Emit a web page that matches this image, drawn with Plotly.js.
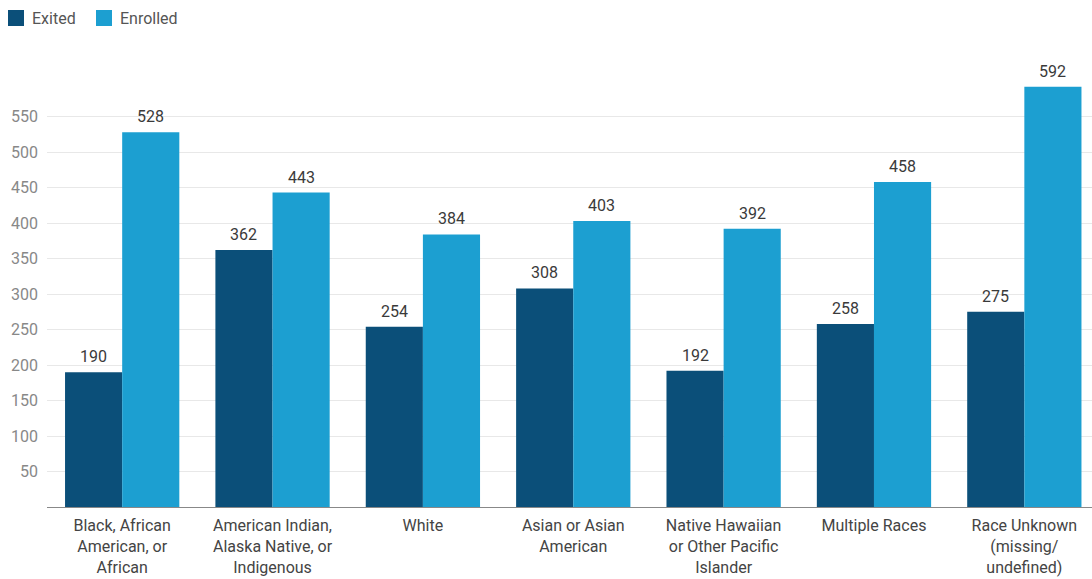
<!DOCTYPE html>
<html>
<head>
<meta charset="utf-8">
<script src="https://cdn.plot.ly/plotly-3.0.1.min.js"></script>
<style>html,body{margin:0;padding:0;background:#fff;}#chart{width:1092px;height:579px;}</style>
</head>
<body>
<div id="chart"></div>
<script>
const categories = [
  "Black, African<br>American, or<br>African",
  "American Indian,<br>Alaska Native, or<br>Indigenous",
  "White",
  "Asian or Asian<br>American",
  "Native Hawaiian<br>or Other Pacific<br>Islander",
  "Multiple Races",
  "Race Unknown<br>(missing/<br>undefined)"
];
const seriesNames = ["Exited", "Enrolled"];
const exited = [190, 362, 254, 308, 192, 258, 275];
const enrolled = [528, 443, 384, 403, 392, 458, 592];
const yTicks = [50, 100, 150, 200, 250, 300, 350, 400, 450, 500, 550];
const colors = ["#0b4f79", "#1c9fd1"];

const W = 1092, H = 579;
const M = {l: 47, r: 0, t: 67, b: 72};
const plotW = W - M.l - M.r, plotH = H - M.t - M.b;
const xRange = [-0.5, 6.45];
const bargap = 0.24;
const pxPerCat = plotW / (xRange[1] - xRange[0]);
const barW = pxPerCat * (1 - bargap) / 2;

const labelFont = {family: "Roboto, sans-serif", size: 16, color: "#3a3a3a"};
const allSeries = [exited, enrolled];
const traces = allSeries.map((vals, i) => ({
  type: "bar", name: seriesNames[i], x: categories, y: vals,
  marker: {color: colors[i]}, showlegend: false, hoverinfo: "skip"
}));

const annotations = [];
allSeries.forEach((vals, i) => {
  vals.forEach((v, j) => {
    annotations.push({x: categories[j], y: v, xref: "x", yref: "y", text: String(v), showarrow: false,
      xanchor: "center", yanchor: "bottom", xshift: (i === 0 ? -1 : 1) * barW / 2, yshift: 4, font: labelFont});
  });
});

// manual legend (pixel -> paper)
const px = x => (x - M.l) / plotW;
const py = y => (H - M.b - y) / plotH;
const legendItems = [{x0: 8, text: 8 + 22}, {x0: 96, text: 96 + 22}];
const shapes = [];
legendItems.forEach((it, i) => {
  shapes.push({type: "rect", xref: "paper", yref: "paper", x0: px(it.x0), x1: px(it.x0 + 16), y0: py(26), y1: py(10),
    fillcolor: colors[i], line: {width: 0}});
  annotations.push({xref: "paper", yref: "paper", x: px(it.text), y: py(18), xanchor: "left", yanchor: "middle",
    text: seriesNames[i], showarrow: false, font: {family: "Roboto, sans-serif", size: 16, color: "#555"}});
});

const layout = {
  width: W, height: H, margin: M,
  paper_bgcolor: "#fff", plot_bgcolor: "#fff",
  font: {family: "Roboto, sans-serif", size: 16, color: "#555"},
  barmode: "group", bargap: bargap, bargroupgap: 0,
  showlegend: false,
  xaxis: {type: "category", range: xRange, automargin: false, tickfont: {size: 16, color: "#444"},
          showline: true, linecolor: "#888", linewidth: 1, ticks: "", showgrid: false, ticklabelstandoff: 4},
  yaxis: {range: [0, 620], tickvals: yTicks, ticktext: yTicks.map(String), automargin: false,
          tickfont: {size: 16, color: "#888"}, showgrid: true, gridcolor: "#e8e8e8",
          zeroline: false, showline: false, ticks: "", ticklabelstandoff: 8},
  annotations: annotations, shapes: shapes
};
Plotly.newPlot("chart", traces, layout, {displayModeBar: false, staticPlot: true});
</script>
</body>
</html>
